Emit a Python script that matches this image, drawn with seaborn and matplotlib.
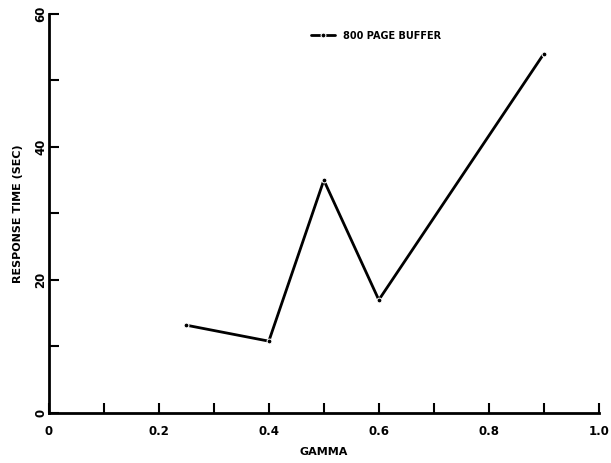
import matplotlib
matplotlib.use("Agg")
import matplotlib.pyplot as plt
import pandas as pd
import seaborn as sns

# Values
gamma = [0.25, 0.4, 0.5, 0.6, 0.9]
response_time = [13.2, 10.8, 35.0, 17.0, 54.0]
series_name = "800 PAGE BUFFER"

df = pd.DataFrame({"GAMMA": gamma, "RESPONSE TIME (SEC)": response_time})

sns.set_style("ticks")
plt.rcParams['font.family'] = ['DejaVu Sans']
plt.rcParams.update({"text.color": "black", "axes.labelcolor": "black",
                     "xtick.color": "black", "ytick.color": "black"})

fig = plt.figure(figsize=(6.11, 4.63), dpi=100)
ax = fig.add_axes([0.08, 0.108, 0.9, 0.862])

sns.lineplot(data=df, x="GAMMA", y="RESPONSE TIME (SEC)", ax=ax, color="black",
             linewidth=2, marker="o", markersize=3.5, label=series_name)

ax.set_xlim(0, 1.0)
ax.set_ylim(0, 60)
ax.set_xticks([0, 0.2, 0.4, 0.6, 0.8, 1.0])
ax.set_xticklabels(["0", "0.2", "0.4", "0.6", "0.8", "1.0"], fontsize=8.5, fontweight="bold")
ax.set_xticks([0.1, 0.3, 0.5, 0.7, 0.9], minor=True)
ax.set_yticks([0, 20, 40, 60])
ax.set_yticklabels(["0", "20", "40", "60"], fontsize=8.5, fontweight="bold", rotation=90, va="center")
ax.set_yticks([10, 30, 50], minor=True)
ax.tick_params(which="both", direction="in", length=7, width=1.5, color="black")
ax.tick_params(axis="x", which="major", pad=9)
ax.tick_params(axis="y", which="major", pad=1)

for side in ["top", "right"]:
    ax.spines[side].set_visible(False)
for side in ["left", "bottom"]:
    ax.spines[side].set_linewidth(2)
    ax.spines[side].set_color("black")

ax.set_xlabel("GAMMA", fontsize=8, fontweight="bold", labelpad=6)
ax.set_ylabel("RESPONSE TIME (SEC)", fontsize=8, fontweight="bold", labelpad=8)

ax.legend(loc="upper left", bbox_to_anchor=(0.46, 0.98), frameon=False,
          prop={"size": 7, "weight": "bold"}, handlelength=2.5)

fig.savefig("out.png", dpi=100)
